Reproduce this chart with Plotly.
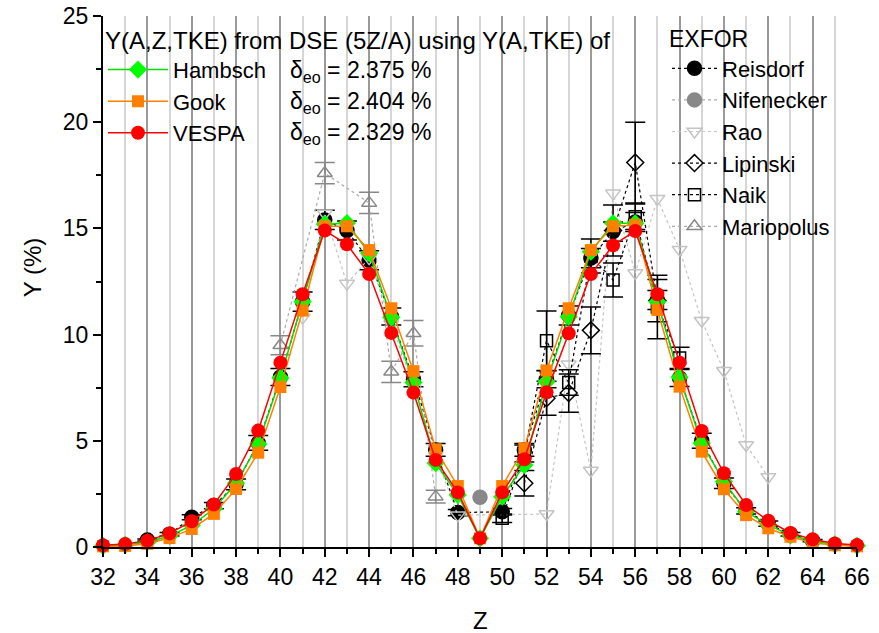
import plotly.graph_objects as go

# Charge number Z of the fragment
z = list(range(32, 67))

# Y(A,Z,TKE) from DSE (5Z/A), in %
hambsch = [0.05, 0.10, 0.22, 0.52, 1.02, 1.80, 3.00, 4.85, 7.96, 11.55, 15.20, 15.25, 13.84, 10.82, 7.75,
           3.95, 2.45, 0.41, 2.37, 3.86, 7.78, 10.84, 13.90, 15.24, 15.24, 11.55, 7.99, 4.88, 3.08, 1.66,
           1.04, 0.55, 0.28, 0.12, 0.06]
gook = [0.03, 0.05, 0.15, 0.42, 0.85, 1.56, 2.73, 4.44, 7.53, 11.13, 15.10, 15.10, 13.98, 11.24, 8.28,
        4.60, 2.87, 0.41, 2.87, 4.65, 8.31, 11.24, 13.98, 15.10, 15.16, 11.16, 7.55, 4.49, 2.72, 1.50,
        0.88, 0.48, 0.20, 0.08, 0.03]
vespa = [0.08, 0.14, 0.30, 0.64, 1.21, 2.00, 3.44, 5.48, 8.68, 11.90, 14.90, 14.25, 12.85, 10.08, 7.27,
         4.10, 2.57, 0.41, 2.57, 4.13, 7.28, 10.06, 12.85, 14.20, 14.88, 11.90, 8.68, 5.46, 3.47, 1.98,
         1.24, 0.66, 0.36, 0.17, 0.09]

model_names = ["Hambsch", "Gook", "VESPA"]
model_deltas = ["2.375", "2.404", "2.329"]

# EXFOR data
reisdorf_z = [34, 35, 36, 37, 38, 39, 40, 41, 42, 43, 44, 45, 46, 47, 48, 50, 51, 52, 53, 54, 55, 56,
              57, 58, 59, 60, 61, 62, 63, 64]
reisdorf_y = [0.33, 0.60, 1.40, 1.95, 2.95, 4.90, 8.00, 11.55, 15.40, 14.90, 13.50, 10.85, 7.90, 4.57,
              1.62, 1.66, 4.57, 7.90, 10.90, 13.60, 14.85, 15.30, 11.63, 7.96, 5.00, 3.00, 1.70, 1.10,
              0.60, 0.30]
reisdorf_err = [0.05, 0.08, 0.12, 0.15, 0.25, 0.35, 0.40, 0.45, 0.45, 0.45, 0.45, 0.40, 0.35, 0.30,
                0.15, 0.15, 0.30, 0.40, 0.45, 0.45, 0.45, 0.45, 0.45, 0.40, 0.35, 0.25, 0.15, 0.12,
                0.08, 0.05]

nifenecker_z = [49]
nifenecker_y = [2.34]

rao_z = [41, 42, 43, 44, 45, 46, 47, 48, 52, 53, 54, 55, 56, 57, 58, 59, 60, 61, 62]
rao_y = [10.80, 15.70, 12.40, 13.60, 10.50, 7.60, 4.30, 1.50, 1.55, 8.60, 3.60, 16.65, 12.90, 16.40,
         14.00, 10.65, 8.30, 4.80, 3.30]

lipinski_z = [51, 52, 53, 54, 55, 56, 57]
lipinski_y = [3.00, 7.00, 7.25, 10.20, 14.90, 18.10, 11.60]
lipinski_err = [0.60, 0.80, 0.90, 1.10, 1.20, 1.90, 1.00]

naik_z = [50, 51, 52, 53, 54, 55, 56, 57, 58]
naik_y = [1.35, 4.40, 9.71, 7.74, 13.70, 12.57, 15.55, 11.30, 8.90]
naik_err = [0.20, 0.40, 1.40, 0.60, 0.80, 0.80, 0.60, 1.50, 0.50]

mario_z = [40, 42, 44, 45, 46, 47]
mario_y = [9.50, 17.60, 16.20, 8.25, 10.06, 2.37]
mario_err = [0.45, 0.50, 0.50, 0.50, 0.60, 0.30]

FONT = "Liberation Sans, Arial, sans-serif"
fig = go.Figure()


def exfor(name, xs, ys, symbol, color, line_color, err=None, err_color="black", size=13, fill=None):
    fig.add_trace(go.Scatter(
        x=xs, y=ys, name=name, mode="lines+markers", legend="legend2",
        legendgroup=name, cliponaxis=False,
        line=dict(color=line_color, width=1.2, dash="dot"),
        marker=dict(symbol=symbol, size=size, color=fill if fill else color,
                    line=dict(color=color, width=1.5)),
        error_y=dict(type="data", array=err, visible=err is not None, color=err_color,
                     thickness=1.5, width=10),
    ))


exfor("Reisdorf", reisdorf_z, reisdorf_y, "circle", "black", "black", reisdorf_err, size=14)
exfor("Nifenecker", nifenecker_z, nifenecker_y, "circle", "#888888", "#aaaaaa", size=14)
exfor("Rao", rao_z, rao_y, "triangle-down-open", "#c4c4c4", "#c4c4c4", size=13)
exfor("Lipinski", lipinski_z, lipinski_y, "diamond-open", "black", "black", lipinski_err, size=13)
exfor("Naik", naik_z, naik_y, "square-open", "black", "black", naik_err, size=12)
exfor("Mariopolus", mario_z, mario_y, "triangle-up-open", "#888888", "#aaaaaa", mario_err,
      err_color="#888888", size=13)

model_styles = [
    (hambsch, "#00ff00", "#00dd00", "diamond", 14),
    (gook, "#ff8000", "#ff8000", "square", 12),
    (vespa, "#ff0000", "#ff0000", "circle", 14),
]
for (ys, mcol, lcol, sym, sz), name in zip(model_styles, model_names):
    fig.add_trace(go.Scatter(
        x=z, y=ys, name=name, mode="lines+markers", legend="legend",
        legendgroup=name, cliponaxis=False,
        line=dict(color=lcol, width=1.5),
        marker=dict(symbol=sym, size=sz, color=mcol, line=dict(width=0)),
    ))

# delta_eo values next to the model legend entries
for i, d in enumerate(model_deltas):
    fig.add_annotation(
        xref="paper", yref="paper", x=0.246, y=0.896 - i * 0.059,
        xanchor="left", yanchor="middle", showarrow=False,
        text=f"δ<sub>eo</sub> = {d} %", font=dict(size=23, color="black", family=FONT),
    )

# axis titles
fig.add_annotation(
    xref="paper", yref="paper", x=-0.094, y=0.527, xanchor="center", yanchor="middle",
    showarrow=False, textangle=-90, text="Y (%)", font=dict(size=24, color="black", family=FONT),
)
fig.add_annotation(
    xref="paper", yref="paper", x=0.5, y=-0.138, xanchor="center", yanchor="middle",
    showarrow=False, text="Z", font=dict(size=24, color="black", family=FONT),
)

axis_common = dict(showline=True, linecolor="black", linewidth=2, tickcolor="black",
                   tickwidth=2, zeroline=False, automargin=False)

fig.update_layout(
    width=879, height=633,
    margin=dict(l=103, r=22, t=16, b=86),
    plot_bgcolor="white", paper_bgcolor="white",
    font=dict(family=FONT, size=23, color="black"),
    showlegend=True,
    xaxis=dict(range=[32, 66], tick0=32, dtick=2, ticks="outside", ticklen=8,
               showgrid=True, gridcolor="#9a9a9a", gridwidth=1.5,
               minor=dict(dtick=1, ticks="outside", ticklen=5, tickcolor="black", tickwidth=2,
                          showgrid=True, gridcolor="#d6d6d6", gridwidth=1.5),
               tickfont=dict(size=23), **axis_common),
    yaxis=dict(range=[0, 25], tick0=0, dtick=5, ticks="outside", ticklen=8, showgrid=False,
               minor=dict(dtick=2.5, ticks="outside", ticklen=5, tickcolor="black", tickwidth=2),
               tickfont=dict(size=23), **axis_common),
    xaxis2=dict(range=[32, 66], overlaying="x", anchor="y", side="top", tick0=32, dtick=2,
                ticks="inside", ticklen=8, showticklabels=False, showgrid=False,
                minor=dict(dtick=1, ticks="inside", ticklen=5, tickcolor="black", tickwidth=2),
                **axis_common),
    yaxis2=dict(range=[0, 25], overlaying="y", anchor="x", side="right", tick0=0, dtick=5,
                ticks="inside", ticklen=8, showticklabels=False, showgrid=False,
                minor=dict(dtick=2.5, ticks="inside", ticklen=5, tickcolor="black", tickwidth=2),
                **axis_common),
    legend=dict(
        x=0.0, y=0.997, xanchor="left", yanchor="top", bgcolor="rgba(0,0,0,0)",
        title=dict(text="Y(A,Z,TKE) from DSE (5Z/A) using Y(A,TKE) of", font=dict(size=24)),
        font=dict(size=22), itemwidth=60, tracegroupgap=0, traceorder="grouped",
    ),
    legend2=dict(
        x=0.748, y=0.997, xanchor="left", yanchor="top", bgcolor="rgba(0,0,0,0)",
        title=dict(text="EXFOR", font=dict(size=23)),
        font=dict(size=22), itemwidth=45, tracegroupgap=0, traceorder="grouped",
    ),
)

fig.write_html("out.html")
